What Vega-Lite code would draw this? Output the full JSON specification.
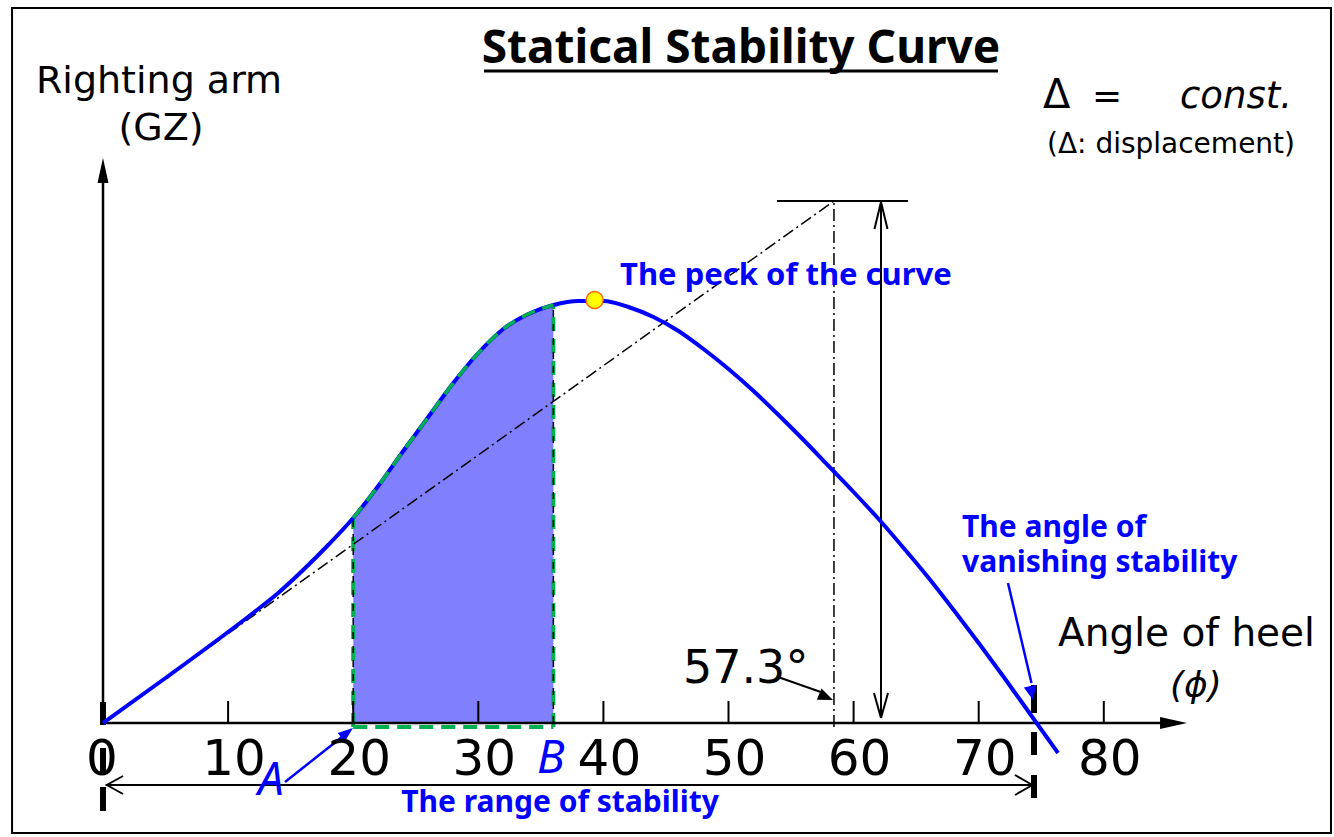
{
  "$schema": "https://vega.github.io/schema/vega-lite/v6.json",
  "width": 1334,
  "height": 837,
  "autosize": {"type": "fit", "contains": "padding"},
  "padding": 0,
  "background": "white",
  "config": {"view": {"stroke": null}},
  "datasets": {
    "curve": [
      {"x": 0, "y": 0}, {"x": 5, "y": 0.45}, {"x": 10, "y": 0.91}, {"x": 12, "y": 1.1},
      {"x": 14, "y": 1.3}, {"x": 16, "y": 1.53}, {"x": 18, "y": 1.78}, {"x": 20, "y": 2.05},
      {"x": 22, "y": 2.37}, {"x": 24, "y": 2.72}, {"x": 26, "y": 3.06}, {"x": 28, "y": 3.4},
      {"x": 30, "y": 3.7}, {"x": 32, "y": 3.94}, {"x": 34, "y": 4.09}, {"x": 36, "y": 4.18},
      {"x": 38, "y": 4.22}, {"x": 40, "y": 4.22}, {"x": 42, "y": 4.16}, {"x": 44, "y": 4.06},
      {"x": 46, "y": 3.92}, {"x": 48, "y": 3.74}, {"x": 50, "y": 3.54}, {"x": 52, "y": 3.32},
      {"x": 54, "y": 3.08}, {"x": 56, "y": 2.83}, {"x": 58, "y": 2.57}, {"x": 60, "y": 2.31},
      {"x": 62, "y": 2.04}, {"x": 64, "y": 1.75}, {"x": 66, "y": 1.45}, {"x": 68, "y": 1.13},
      {"x": 70, "y": 0.8}, {"x": 72, "y": 0.46}, {"x": 74, "y": 0.11}, {"x": 76.34, "y": -0.3}
    ]
  },
  "encoding": {
    "x": {"field": "x", "type": "quantitative", "scale": {"domain": [-8.2334, 98.401], "nice": false, "zero": false}, "axis": null},
    "y": {"field": "y", "type": "quantitative", "scale": {"domain": [-1.14, 7.23], "nice": false, "zero": false}, "axis": null}
  },
  "layer": [
    {
      "data": {"values": [{"x": -7.27, "x2": 98.16, "y": 7.15, "y2": -1.1}]},
      "mark": {"type": "rect", "fillOpacity": 0, "stroke": "black", "strokeWidth": 2},
      "encoding": {"x2": {"field": "x2"}, "y2": {"field": "y2"}}
    },
    {
      "data": {"name": "curve"},
      "transform": [{"filter": "datum.x >= 19.9 && datum.x <= 36.1"}],
      "mark": {"type": "area", "interpolate": "monotone", "color": "#8080ff", "opacity": 1},
      "encoding": {"y2": {"datum": 0}}
    },
    {
      "data": {"values": [
        {"x": 20, "y": -0.04, "x2": 20, "y2": 2.05},
        {"x": 36, "y": -0.04, "x2": 36, "y2": 4.18},
        {"x": 20, "y": -0.04, "x2": 36, "y2": -0.04}
      ]},
      "mark": {"type": "rule", "color": "#00b050", "strokeWidth": 4, "strokeDash": [14, 8]},
      "encoding": {"x2": {"field": "x2"}, "y2": {"field": "y2"}}
    },
    {
      "data": {"values": [
        {"x": 20, "y": 0, "x2": 20, "y2": 2.05},
        {"x": 36, "y": 0, "x2": 36, "y2": 4.18}
      ]},
      "mark": {"type": "rule", "color": "black", "strokeWidth": 1.5, "strokeDash": [7, 7]},
      "encoding": {"x2": {"field": "x2"}, "y2": {"field": "y2"}}
    },
    {
      "data": {"values": [
        {"x": 0, "y": 0, "x2": 58.43, "y2": 5.22},
        {"x": 58.43, "y": -0.04, "x2": 58.43, "y2": 5.22}
      ]},
      "mark": {"type": "rule", "color": "black", "strokeWidth": 1.5, "strokeDash": [12, 4, 2, 4]},
      "encoding": {"x2": {"field": "x2"}, "y2": {"field": "y2"}}
    },
    {
      "data": {"values": [
        {"x": 53.88, "y": 5.22, "x2": 64.35, "y2": 5.22},
        {"x": 62.19, "y": 0.05, "x2": 62.19, "y2": 5.21},
        {"x": 62.19, "y": 5.21, "x2": 61.67, "y2": 4.94},
        {"x": 62.19, "y": 5.21, "x2": 62.71, "y2": 4.94},
        {"x": 62.19, "y": 0.05, "x2": 61.63, "y2": 0.3},
        {"x": 62.19, "y": 0.05, "x2": 62.75, "y2": 0.3},
        {"x": 0.2, "y": -0.62, "x2": 74.3, "y2": -0.62},
        {"x": 0.3, "y": -0.62, "x2": 1.6, "y2": -0.53},
        {"x": 0.3, "y": -0.62, "x2": 1.6, "y2": -0.71},
        {"x": 74.3, "y": -0.62, "x2": 72.9, "y2": -0.52},
        {"x": 74.3, "y": -0.62, "x2": 72.9, "y2": -0.72},
        {"x": 53.96, "y": 0.46, "x2": 57.6, "y2": 0.3},
        {"x": 10, "y": 0, "x2": 10, "y2": 0.22},
        {"x": 20, "y": 0, "x2": 20, "y2": 0.22},
        {"x": 30, "y": 0, "x2": 30, "y2": 0.22},
        {"x": 40, "y": 0, "x2": 40, "y2": 0.22},
        {"x": 50, "y": 0, "x2": 50, "y2": 0.22},
        {"x": 60, "y": 0, "x2": 60, "y2": 0.22},
        {"x": 70, "y": 0, "x2": 70, "y2": 0.22},
        {"x": 80, "y": 0, "x2": 80, "y2": 0.22}
      ]},
      "mark": {"type": "rule", "color": "black", "strokeWidth": 2},
      "encoding": {"x2": {"field": "x2"}, "y2": {"field": "y2"}}
    },
    {
      "data": {"values": [
        {"x": 0, "y": 0, "x2": 85, "y2": 0},
        {"x": 0, "y": 0, "x2": 0, "y2": 5.45}
      ]},
      "mark": {"type": "rule", "color": "black", "strokeWidth": 2.5},
      "encoding": {"x2": {"field": "x2"}, "y2": {"field": "y2"}}
    },
    {
      "data": {"values": [
        {"x": 0, "y": 0.21, "x2": 0, "y2": -0.02},
        {"x": 0, "y": -0.25, "x2": 0, "y2": -0.49},
        {"x": 0, "y": -0.64, "x2": 0, "y2": -0.88},
        {"x": 74.42, "y": 0.38, "x2": 74.42, "y2": 0.1},
        {"x": 74.42, "y": -0.09, "x2": 74.42, "y2": -0.32},
        {"x": 74.42, "y": -0.52, "x2": 74.42, "y2": -0.75}
      ]},
      "mark": {"type": "rule", "color": "black", "strokeWidth": 6},
      "encoding": {"x2": {"field": "x2"}, "y2": {"field": "y2"}}
    },
    {
      "data": {"name": "curve"},
      "mark": {"type": "line", "interpolate": "monotone", "color": "#0000ff", "strokeWidth": 4}
    },
    {
      "data": {"name": "curve"},
      "transform": [{"filter": "datum.x >= 19.9 && datum.x <= 36.1"}],
      "mark": {"type": "line", "interpolate": "monotone", "color": "#00b050", "strokeWidth": 3.5, "strokeDash": [14, 8]}
    },
    {
      "data": {"values": [{"x": 39.3, "y": 4.23}]},
      "mark": {"type": "point", "shape": "circle", "filled": true, "color": "#ffff00", "stroke": "#ff6a00", "strokeWidth": 1.5, "size": 290, "opacity": 1}
    },
    {
      "data": {"values": [
        {"x": 14.55, "y": -0.59, "x2": 19.6, "y2": -0.09},
        {"x": 72.34, "y": 1.4, "x2": 74.22, "y2": 0.4}
      ]},
      "mark": {"type": "rule", "color": "#0000ff", "strokeWidth": 2.5},
      "encoding": {"x2": {"field": "x2"}, "y2": {"field": "y2"}}
    },
    {
      "data": {"values": [{"x": 0, "y": 5.65}]},
      "mark": {"type": "point", "shape": "M0,0L-0.22,1L0.22,1Z", "filled": true, "color": "black", "opacity": 1, "size": 2500, "angle": 0, "strokeWidth": 0}
    },
    {
      "data": {"values": [{"x": 86.65, "y": 0}]},
      "mark": {"type": "point", "shape": "M0,0L-0.22,1L0.22,1Z", "filled": true, "color": "black", "opacity": 1, "size": 2900, "angle": 90, "strokeWidth": 0}
    },
    {
      "data": {"values": [{"x": 58.35, "y": 0.23}]},
      "mark": {"type": "point", "shape": "M0,0L-0.4,1L0.4,1Z", "filled": true, "color": "black", "opacity": 1, "size": 900, "angle": 113, "strokeWidth": 0}
    },
    {
      "data": {"values": [{"x": 19.98, "y": -0.05}]},
      "mark": {"type": "point", "shape": "M0,0L-0.38,1L0.38,1Z", "filled": true, "color": "#0000ff", "opacity": 1, "size": 900, "angle": 51.5, "strokeWidth": 0}
    },
    {
      "data": {"values": [{"x": 74.34, "y": 0.23}]},
      "mark": {"type": "point", "shape": "M0,0L-0.45,1L0.45,1Z", "filled": true, "color": "#0000ff", "opacity": 1, "size": 800, "angle": 168, "strokeWidth": 0}
    },
    {
      "data": {"values": [{"x": 51.0, "y": 6.6, "t": "Statical Stability Curve"}]},
      "mark": {"type": "text", "align": "center", "baseline": "alphabetic", "font": "Noto Sans", "fontWeight": "bold", "fontSize": 46, "color": "black"},
      "encoding": {"text": {"field": "t"}}
    },
    {
      "data": {"values": [{"x": 30.46, "y": 6.52, "x2": 71.54, "y2": 6.52}]},
      "mark": {"type": "rule", "color": "black", "strokeWidth": 3},
      "encoding": {"x2": {"field": "x2"}, "y2": {"field": "y2"}}
    },
    {
      "data": {"values": [{"x": -5.36, "y": 6.3, "t": "Righting arm"}]},
      "mark": {"type": "text", "align": "left", "baseline": "alphabetic", "font": "DejaVu Sans", "fontSize": 38, "color": "black"},
      "encoding": {"text": {"field": "t"}}
    },
    {
      "data": {"values": [{"x": 76.34, "y": 0.77, "t": "Angle of heel"}]},
      "mark": {"type": "text", "align": "left", "baseline": "alphabetic", "font": "DejaVu Sans", "fontSize": 39, "color": "black"},
      "encoding": {"text": {"field": "t"}}
    },
    {
      "data": {"values": [{"x": 4.64, "y": 5.83, "t": "(GZ)"}]},
      "mark": {"type": "text", "align": "center", "baseline": "alphabetic", "font": "DejaVu Sans", "fontSize": 38, "color": "black"},
      "encoding": {"text": {"field": "t"}}
    },
    {
      "data": {"values": [{"x": 75.14, "y": 6.15, "t": "Δ"}]},
      "mark": {"type": "text", "align": "left", "baseline": "alphabetic", "font": "DejaVu Sans", "fontSize": 40, "color": "black"},
      "encoding": {"text": {"field": "t"}}
    },
    {
      "data": {"values": [{"x": 80.26, "y": 6.15, "t": "="}]},
      "mark": {"type": "text", "align": "center", "baseline": "alphabetic", "font": "DejaVu Sans", "fontSize": 36, "color": "black"},
      "encoding": {"text": {"field": "t"}}
    },
    {
      "data": {"values": [{"x": 86.09, "y": 6.15, "t": "const."}]},
      "mark": {"type": "text", "align": "left", "baseline": "alphabetic", "font": "DejaVu Sans", "fontStyle": "italic", "fontSize": 37, "color": "black"},
      "encoding": {"text": {"field": "t"}}
    },
    {
      "data": {"values": [{"x": 85.37, "y": 5.7, "t": "(Δ: displacement)"}]},
      "mark": {"type": "text", "align": "center", "baseline": "alphabetic", "font": "DejaVu Sans", "fontSize": 28, "color": "black"},
      "encoding": {"text": {"field": "t"}}
    },
    {
      "data": {"values": [{"x": 0, "y": -0.52, "t": "0"}]},
      "mark": {"type": "text", "align": "center", "baseline": "alphabetic", "dx": -1, "font": "DejaVu Sans", "fontSize": 50, "color": "black"},
      "encoding": {"text": {"field": "t"}}
    },
    {
      "data": {"values": [
        {"x": 10, "y": -0.52, "t": "10"}, {"x": 20, "y": -0.52, "t": "20"},
        {"x": 30, "y": -0.52, "t": "30"}, {"x": 40, "y": -0.52, "t": "40"}, {"x": 50, "y": -0.52, "t": "50"},
        {"x": 60, "y": -0.52, "t": "60"}, {"x": 70, "y": -0.52, "t": "70"}, {"x": 80, "y": -0.52, "t": "80"}
      ]},
      "mark": {"type": "text", "align": "center", "baseline": "alphabetic", "dx": 6, "font": "DejaVu Sans", "fontSize": 50, "color": "black"},
      "encoding": {"text": {"field": "t"}}
    },
    {
      "data": {"values": [{"x": 46.36, "y": 0.4, "t": "57.3°"}]},
      "mark": {"type": "text", "align": "left", "baseline": "alphabetic", "font": "DejaVu Sans", "fontSize": 46, "color": "black"},
      "encoding": {"text": {"field": "t"}}
    },
    {
      "data": {"values": [{"x": 87.37, "y": 0.26, "t": "(ϕ)"}]},
      "mark": {"type": "text", "align": "center", "baseline": "alphabetic", "font": "DejaVu Sans", "fontStyle": "italic", "fontSize": 36, "color": "black"},
      "encoding": {"text": {"field": "t"}}
    },
    {
      "data": {"values": [{"x": 41.33, "y": 4.38, "t": "The peck of the curve"}]},
      "mark": {"type": "text", "align": "left", "baseline": "alphabetic", "font": "Noto Sans", "fontWeight": "bold", "fontSize": 31, "color": "#0000ff"},
      "encoding": {"text": {"field": "t"}}
    },
    {
      "data": {"values": [
        {"x": 68.67, "y": 1.86, "t": "The angle of"},
        {"x": 68.67, "y": 1.51, "t": "vanishing stability"}
      ]},
      "mark": {"type": "text", "align": "left", "baseline": "alphabetic", "font": "Noto Sans", "fontWeight": "bold", "fontSize": 30, "color": "#0000ff"},
      "encoding": {"text": {"field": "t"}}
    },
    {
      "data": {"values": [{"x": 36.53, "y": -0.89, "t": "The range of stability"}]},
      "mark": {"type": "text", "align": "center", "baseline": "alphabetic", "font": "Noto Sans", "fontWeight": "bold", "fontSize": 30, "color": "#0000ff"},
      "encoding": {"text": {"field": "t"}}
    },
    {
      "data": {"values": [{"x": 13.43, "y": -0.72, "t": "A"}, {"x": 35.8, "y": -0.5, "t": "B"}]},
      "mark": {"type": "text", "align": "center", "baseline": "alphabetic", "font": "Noto Sans", "fontStyle": "italic", "fontSize": 46, "color": "#0000ff"},
      "encoding": {"text": {"field": "t"}}
    }
  ]
}
